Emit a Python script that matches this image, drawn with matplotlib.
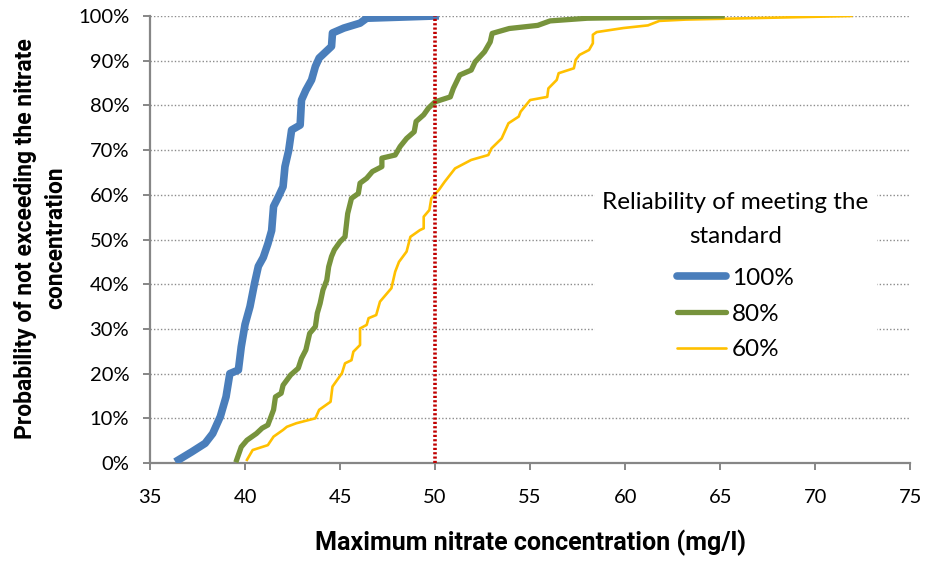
import matplotlib as mpl
mpl.use('Agg')
import matplotlib.pyplot as plt
from matplotlib.ticker import FuncFormatter

# cumulative curves (x in mg/l, y in %)
x_100 = [36.5, 37.2, 37.9, 38.3, 38.7, 39.0, 39.2, 39.65, 39.8, 40.0, 40.26, 40.5, 40.7, 40.96,
         41.2, 41.4, 41.5, 41.76, 42.0, 42.1, 42.3, 42.45, 42.9, 42.97, 43.2, 43.5, 43.7, 43.9,
         44.55, 44.6, 45.2, 46.05, 46.4, 50.0]
y_100 = [0.7, 2.5, 4.4, 6.6, 10.4, 14.8, 20.0, 20.8, 26.0, 31.0, 35.0, 40.2, 44.0, 46.0,
         49.0, 52.0, 57.4, 59.6, 61.8, 66.3, 70.0, 74.5, 75.6, 81.2, 83.4, 85.7, 88.7, 90.6,
         93.2, 96.2, 97.3, 98.4, 99.5, 100.0]

x_80 = [39.56, 39.8, 40.1, 40.6, 40.9, 41.2, 41.5, 41.6, 41.9, 42.0, 42.4, 42.8, 42.97, 43.2,
        43.4, 43.7, 43.8, 43.95, 44.1, 44.3, 44.4, 44.55, 44.7, 45.0, 45.26, 45.4, 45.6, 45.96,
        46.05, 46.4, 46.7, 47.2, 47.2, 47.9, 48.16, 48.5, 48.9, 49.0, 49.4, 49.65, 50.0, 50.8,
        50.96, 51.3, 51.9, 52.1, 52.6, 52.9, 53.0, 53.9, 55.4, 56.05, 58.0, 65.1]
y_80 = [0.7, 3.6, 5.1, 6.6, 7.8, 8.5, 11.9, 14.8, 15.6, 17.4, 19.7, 21.2, 23.4, 25.3,
        29.0, 30.5, 33.5, 35.7, 38.7, 40.9, 43.9, 46.2, 47.7, 49.5, 50.6, 55.8, 59.2, 60.3,
        62.6, 63.7, 65.2, 66.3, 68.2, 68.9, 70.8, 72.6, 74.1, 76.4, 77.9, 79.4, 80.8, 81.9,
        83.8, 86.8, 87.9, 89.7, 92.0, 94.2, 96.1, 97.2, 97.9, 98.9, 99.5, 100.0]

x_60 = [40.1, 40.4, 41.2, 41.5, 42.0, 42.2, 42.7, 43.7, 43.9, 44.5, 44.6, 45.1, 45.26, 45.6,
        45.7, 46.05, 46.05, 46.4, 46.5, 46.9, 47.1, 47.7, 47.9, 48.1, 48.5, 48.7, 49.2, 49.4,
        49.4, 49.7, 49.8, 50.2, 50.5, 51.05, 51.9, 52.8, 52.97, 53.5, 53.86, 54.4, 54.5, 55.0,
        55.9, 55.96, 56.4, 56.5, 57.3, 57.4, 57.6, 58.1, 58.3, 58.3, 58.5, 59.9, 61.2, 61.8,
        63.2, 71.9]
y_60 = [0.7, 2.9, 4.0, 5.9, 7.4, 8.1, 8.9, 10.0, 11.9, 13.7, 17.1, 20.1, 22.3, 23.0,
        24.9, 26.4, 30.1, 30.9, 32.4, 33.1, 36.1, 39.1, 42.8, 45.0, 47.3, 50.6, 52.1, 52.5,
        55.1, 56.6, 59.2, 61.1, 62.9, 65.9, 67.8, 68.9, 70.4, 72.6, 76.0, 77.5, 78.6, 81.2,
        81.9, 83.8, 85.7, 87.2, 88.3, 90.2, 91.3, 92.4, 93.9, 95.8, 96.4, 97.3, 97.9, 98.9,
        99.2, 100.0]

standard = 50
x_ticks = [35, 40, 45, 50, 55, 60, 65, 70, 75]
y_ticks = [0, 10, 20, 30, 40, 50, 60, 70, 80, 90, 100]

plt.rcParams['font.family'] = ['Lato', 'DejaVu Sans']
bold_font = ['Roboto', 'DejaVu Sans']
grey = '#868686'

fig = plt.figure(figsize=(9.26, 5.67), dpi=100)
ax = fig.add_axes([0.162, 0.1834, 0.821, 0.7884])

ax.plot(x_100, y_100, color='#4A7EBB', lw=5.5, label='100%', solid_joinstyle='round', zorder=4)
ax.plot(x_80, y_80, color='#77933C', lw=3.8, label='80%', zorder=3)
ax.plot(x_60, y_60, color='#FFC000', lw=1.9, label='60%', zorder=2)
ax.plot([standard, standard], [0, 100], color='#C00000', lw=2.6, ls=(0, (0.6, 0.6)), zorder=5)

ax.set_xlim(35, 75)
ax.set_ylim(0, 100)
ax.set_xticks(x_ticks)
ax.set_yticks(y_ticks)
ax.yaxis.set_major_formatter(FuncFormatter(lambda v, p: '%d%%' % v))
ax.grid(axis='y', color='#8c8c8c', ls=(0, (1, 1.5)), lw=1.0)
ax.set_axisbelow(True)
for s in ['top', 'right']:
    ax.spines[s].set_visible(False)
for s in ['left', 'bottom']:
    ax.spines[s].set_color(grey)
    ax.spines[s].set_linewidth(1.6)
ax.tick_params(colors=grey, width=1.4, length=5, labelcolor='black', labelsize=14.5)
ax.tick_params(axis='x', pad=14)
ax.tick_params(axis='y', pad=10)

ax.set_xlabel('Maximum nitrate concentration (mg/l)', fontsize=18, fontweight='bold',
              family=bold_font, labelpad=17)
fig.text(0.044, 0.58, 'Probability of not exceeding the nitrate\nconcentration', rotation=90,
         fontsize=16.5, fontweight='bold', family=bold_font, ha='center', va='center',
         multialignment='center', linespacing=1.4)

leg = ax.legend(title='Reliability of meeting the\nstandard', loc='upper center',
                bbox_to_anchor=(0.794, 0.695), bbox_transform=fig.transFigure,
                frameon=True, framealpha=1, edgecolor='white', fontsize=17.5,
                title_fontsize=17.5, handlelength=2.0, handletextpad=0.25,
                labelspacing=0.6, borderpad=0.3)
leg.get_title().set_multialignment('center')
leg.get_title().set_linespacing(1.75)
leg._legend_box.align = 'center'
leg._legend_box.sep = 15
for h in leg.get_lines():
    h.set_solid_capstyle('round')

fig.savefig('out.png', dpi=100)
